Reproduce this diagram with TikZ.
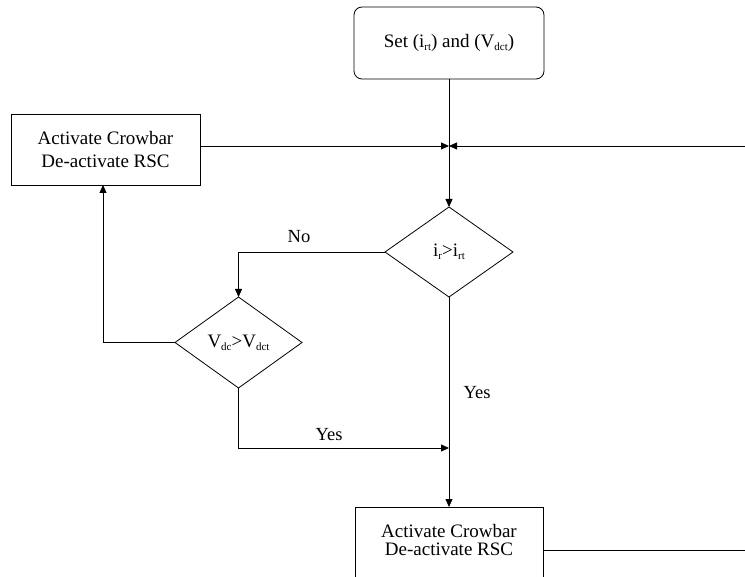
\documentclass[tikz,border=0pt]{standalone}
\usepackage{fontspec}
\setmainfont{Liberation Serif}
\usetikzlibrary{shapes.geometric,arrows.meta}
\newcommand\subx[1]{\raisebox{-0.35ex}{\fontsize{11}{11}\selectfont #1}}
\begin{document}
\begin{tikzpicture}[x=1pt,y=-1pt,
  line width=0.8pt,
  boxst/.style={draw, line width=0.8pt, minimum width=189pt, minimum height=71pt, inner sep=0pt, outer sep=0pt, align=center, font=\fontsize{19}{23.5}\selectfont},
  decst/.style={draw, diamond, line width=0.8pt, inner sep=0pt, outer sep=0pt, font=\fontsize{19}{23}\selectfont},
  arr/.style={-{Triangle[length=8pt,width=7pt]}},
  lbl/.style={inner sep=0pt, font=\fontsize{18.5}{20}\selectfont}]
\clip (0,0) rectangle (745,577);
\fill[white] (0,0) rectangle (745,577);
% nodes
\node[boxst, rounded corners=8pt, minimum width=190pt, minimum height=72pt] (start) at (449,43) {Set (i\subx{rt}) and (V\subx{dct})};
\node[boxst] (act1) at (105.5,149.5) {Activate Crowbar\\De-activate RSC};
\node[decst, minimum width=128pt, minimum height=90pt] (d1) at (449,252) {i\subx{r}>i\subx{rt}};
\node[decst, minimum width=127pt, minimum height=91pt] (d2) at (238.5,342.5) {V\subx{dc}>V\subx{dct}};
\node[boxst, minimum width=188pt, minimum height=86pt] (act2) at (449,550) {};
\node[inner sep=0pt, align=center, font=\fontsize{19}{18.5}\selectfont] (act2t) at (449,540) {Activate Crowbar\\De-activate RSC};
% coordinates
\coordinate (j) at (449,146);
\coordinate (rin) at (745,146);
\coordinate (rout) at (745,550);
\coordinate (m) at (449,448);
% connectors
\draw[arr] (start.south) -- (d1.north);
\draw[arr] (act1.east |- j) -- (j);
\draw[arr] (rin) -- (j);
\draw[arr] (d1.west) -| (d2.north);
\draw[arr] (d2.west) -| ([xshift=-2.5pt]act1.south);
\draw[arr] (d2.south) |- (m);
\draw[arr] (d1.south) -- (act2.north);
\draw (act2.east) -- (rout);
% labels
\node[lbl] (no) at (299,237) {No};
\node[lbl] (yes1) at (477,393) {Yes};
\node[lbl] (yes2) at (329,435) {Yes};
\end{tikzpicture}
\end{document}
